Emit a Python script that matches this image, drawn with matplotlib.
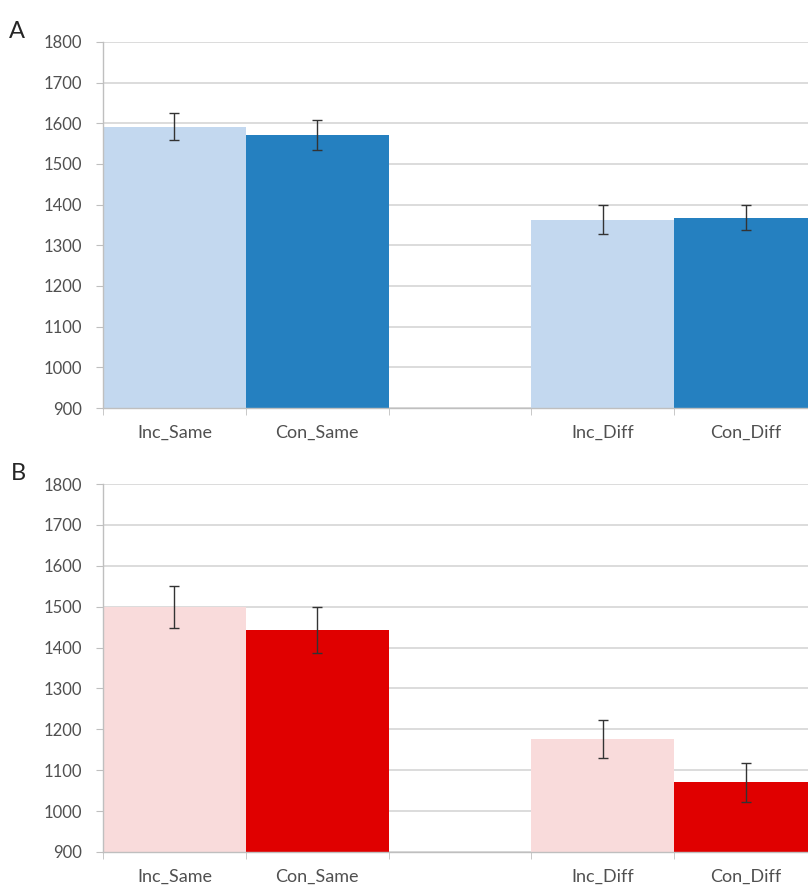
"""Reaction-time bar charts (panels A and B) with SEM error bars."""

import matplotlib
matplotlib.use("Agg")

import matplotlib.pyplot as plt  # noqa: E402

plt.rcParams["font.family"] = ["Lato", "DejaVu Sans"]

# ---------------------------------------------------------------------------
# Data
# ---------------------------------------------------------------------------

categories = ["Inc_Same", "Con_Same", "", "Inc_Diff", "Con_Diff"]
yticks = [900, 1000, 1100, 1200, 1300, 1400, 1500, 1600, 1700, 1800]

# Panel A (blue)
a_means = [1592, 1572, None, 1363, 1368]
a_errs = [33, 37, None, 35, 31]

# Panel B (red)
b_means = [1500, 1443, None, 1176, 1070]
b_errs = [51, 57, None, 47, 47]

blue_colors = ["#C3D8EF", "#2580C0", "none", "#C3D8EF", "#2580C0"]
red_colors = ["#F9DBDB", "#E00000", "none", "#F9DBDB", "#E00000"]

# ---------------------------------------------------------------------------
# Styles
# ---------------------------------------------------------------------------

_GRID = "#D9D9D9"
_TEXT = "#505050"
_W, _H = 808, 886


def _draw_panel(ax, means, errs, colors):
    xs = [i for i, m in enumerate(means) if m is not None]
    vals = [means[i] for i in xs]
    ers = [errs[i] for i in xs]
    cols = [colors[i] for i in xs]
    ax.bar(xs, [v - 900 for v in vals], bottom=900, width=1.0,
           color=cols, edgecolor="none", zorder=2)
    ax.errorbar(xs, vals, yerr=ers, fmt="none", ecolor="#333333",
                elinewidth=1.0, capsize=3.5, capthick=1.0, zorder=3)

    ax.set_xlim(-0.5, len(categories) - 0.5)
    ax.set_ylim(900, 1800)
    ax.set_yticks(yticks)
    ax.set_yticklabels([str(t) for t in yticks], fontsize=12, color=_TEXT)
    ax.set_xticks(range(len(categories)))
    ax.set_xticklabels(categories, fontsize=13, color=_TEXT)
    ax.tick_params(axis="x", which="major", length=0, pad=12)
    ax.set_xticks([i - 0.5 for i in range(len(categories) + 1)], minor=True)
    ax.tick_params(axis="x", which="minor", length=5, color="#BFBFBF",
                   direction="out")
    ax.tick_params(axis="y", length=5, color="#BFBFBF", direction="out",
                   pad=10)

    ax.grid(axis="y", color=_GRID, linewidth=1.3, zorder=0)
    ax.set_axisbelow(True)
    for side in ("top", "right"):
        ax.spines[side].set_visible(False)
    for side in ("left", "bottom"):
        ax.spines[side].set_color("#BFBFBF")
        ax.spines[side].set_linewidth(1.0)


def _axes_rect(left, top, right, bottom):
    return [left / _W, 1 - bottom / _H, (right - left) / _W, (bottom - top) / _H]


fig = plt.figure(figsize=(_W / 100, _H / 100), dpi=100)

ax_a = fig.add_axes(_axes_rect(103, 42, 817, 408))
_draw_panel(ax_a, a_means, a_errs, blue_colors)

ax_b = fig.add_axes(_axes_rect(103, 484, 817, 852))
_draw_panel(ax_b, b_means, b_errs, red_colors)

fig.text(9 / _W, 1 - 38 / _H, "A", fontsize=17, color="#262626")
fig.text(11 / _W, 1 - 480 / _H, "B", fontsize=17, color="#262626")

fig.savefig("out.png", dpi=100)
plt.close(fig)
